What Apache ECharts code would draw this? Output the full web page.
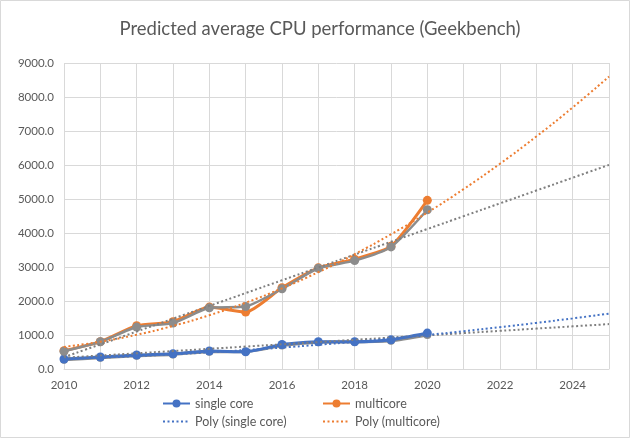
<!DOCTYPE html>
<html><head><meta charset="utf-8">
<script src="https://cdn.jsdelivr.net/npm/echarts@6/dist/echarts.min.js"></script>
<style>html,body{margin:0;padding:0;background:#fff}#c{width:640px;height:446px}</style>
</head><body><div id="c"></div>
<script>
const years = [2010,2011,2012,2013,2014,2015,2016,2017,2018,2019,2020];
const singleCore = [295,352,411,449,528,508,722,801,801,860,1057];
const multicore = [537,805,1271,1390,1820,1673,2390,2975,3230,3610,4960];
const grayHigh = [520,801,1233,1350,1799,1838,2357,2964,3188,3590,4685];
const grayLow = [275,330,390,430,510,510,690,785,795,830,1000];
const trendYears = [2010,2011,2012,2013,2014,2015,2016,2017,2018,2019,2020,2021,2022,2023,2024,2025];
const polySingle = [300,336,380,432,491,557,630,712,800,896,1000,1111,1230,1356,1489,1630];
const polyMulti = [650,802,1008,1268,1582,1950,2372,2848,3378,3962,4600,5292,6038,6838,7692,8600];
const linHigh = [348,725,1102,1479,1856,2233,2610,2987,3364,3741,4118,4495,4872,5249,5626,6003];
const linLow = [330,396,462,528,594,660,726,792,858,924,990,1056,1122,1188,1254,1320];
const yTicks = {min:0, max:9000, interval:1000};

const pair = (xs, ys) => xs.map((x,i)=>[x, ys[i]]);
const FONT = 'Lato';
const TXT = '#595959';
const chart = echarts.init(document.getElementById('c'));
const markerLine = (name, data, color, z) => ({
  name, type:'line', data, z, symbol:'circle', symbolSize:9, smooth:0.2,
  lineStyle:{color, width:3}, itemStyle:{color}, emphasis:{disabled:true}
});
const dotLine = (name, data, color, z) => ({
  name, type:'line', data, z, symbol:'none', smooth:true,
  lineStyle:{color, width:2, type:[2,2.5]}, itemStyle:{color}, emphasis:{disabled:true}
});
const leg = (name, left, top, hideSym) => {
  const o = {data:[name], left, top, itemWidth:27, itemHeight:10,
    textStyle:{color:TXT, fontSize:12.5, fontFamily:FONT}, selectedMode:false};
  if (hideSym) o.itemStyle = {opacity:0};
  return o;
};
chart.setOption({
  animation:false,
  backgroundColor:'#fff',
  title:{text:'Predicted average CPU performance (Geekbench)', left:'center', top:15,
    textStyle:{color:TXT, fontSize:18.5, fontWeight:'normal', fontFamily:FONT}},
  graphic:[{type:'rect', shape:{x:0.5,y:0.5,width:629,height:437}, style:{fill:'none', stroke:'#d9d9d9', lineWidth:1}, silent:true}],
  legend:[leg('single core',157,392,false), leg('multicore',317,392,false), leg('Poly (single core)',157,410,true), leg('Poly (multicore)',317,410,true)],
  grid:{left:64, right:31, top:63, bottom:77},
  xAxis:{type:'value', min:2010, max:2025, interval:1,
    axisLine:{lineStyle:{color:'#d9d9d9'}}, axisTick:{show:false},
    splitLine:{show:true, lineStyle:{color:'#d9d9d9', width:1}},
    axisLabel:{color:TXT, fontSize:11.5, fontFamily:FONT, margin:10,
      formatter:v => (v%2===0 && v<2025) ? String(v) : ''}},
  yAxis:{type:'value', min:yTicks.min, max:yTicks.max, interval:yTicks.interval,
    axisLine:{show:false}, axisTick:{show:false},
    splitLine:{lineStyle:{color:'#d9d9d9', width:1}},
    axisLabel:{color:TXT, fontSize:11.5, fontFamily:FONT, margin:10, formatter:v=>v.toFixed(1)}},
  series:[
    {name:'grayLow', type:'line', data:pair(years,grayLow), z:2, symbol:'circle', symbolSize:8, smooth:0.2, lineStyle:{color:'#8c8c8c', width:3}, itemStyle:{color:'#8c8c8c'}},
    markerLine('single core', pair(years,singleCore), '#4472C4', 3),
    markerLine('multicore', pair(years,multicore), '#ED7D31', 4),
    {name:'grayHigh', type:'line', data:pair(years,grayHigh), z:5, symbol:'circle', symbolSize:9, smooth:0.2, lineStyle:{color:'#8c8c8c', width:2.5}, itemStyle:{color:'#8c8c8c'}},
    dotLine('linLow', pair(trendYears,linLow), '#7f7f7f', 6),
    dotLine('linHigh', pair(trendYears,linHigh), '#7f7f7f', 6),
    dotLine('Poly (single core)', pair(trendYears,polySingle), '#4472C4', 7),
    dotLine('Poly (multicore)', pair(trendYears,polyMulti), '#ED7D31', 7)
  ]
});
</script></body></html>
